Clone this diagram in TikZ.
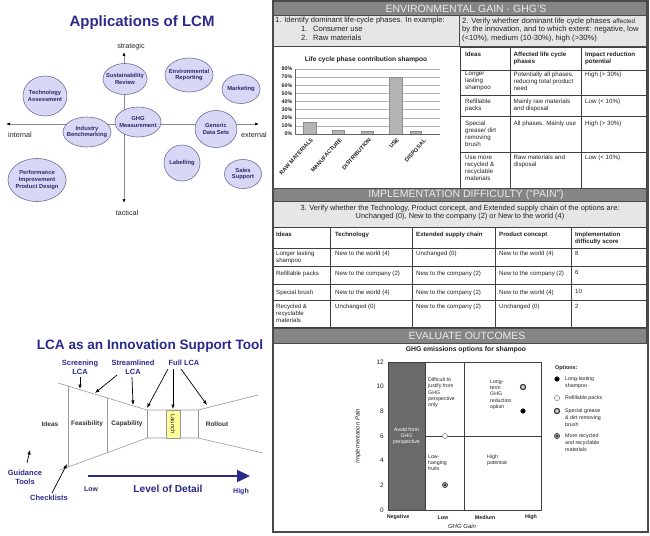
\documentclass[tikz,border=0pt]{standalone}
\usepackage{fontspec}
\setmainfont{Liberation Sans}
\usetikzlibrary{arrows.meta,shapes.geometric}
\definecolor{lcmblue}{HTML}{2B2B8C}
\definecolor{elltext}{HTML}{2A2A6A}
\definecolor{ellfill}{HTML}{D8D8F6}
\definecolor{elldraw}{HTML}{6E6E9E}
\definecolor{hdrgray}{HTML}{858585}
\definecolor{boxgray}{HTML}{E6E6E6}
\definecolor{framegray}{HTML}{4A4A4A}
\definecolor{darkcol}{HTML}{6A6A6A}
\definecolor{bargray}{HTML}{B4B4B4}
\definecolor{launchy}{HTML}{FFFF99}
\definecolor{ink}{HTML}{222222}
\newcommand{\fsz}[2]{\fontsize{#1}{#2}\selectfont}
\begin{document}
\begin{tikzpicture}[x=1pt,y=-1pt,
  ell/.style={ellipse, draw=elldraw, fill=ellfill, line width=0.6pt, inner sep=0pt},
  elltxt/.style={inner sep=0pt, align=center, text=elltext, font=\bfseries\fsz{5.8}{6.8}},
  axisline/.style={draw=black!45, line width=0.6pt, {Latex[length=4pt,width=3pt,color=black]}-{Latex[length=4pt,width=3pt,color=black]}},
  axlbl/.style={inner sep=0pt, text=ink, font=\fsz{7.2}{8}},
  bluelbl/.style={inner sep=0pt, align=center, text=lcmblue, font=\bfseries\fsz{7.5}{9}},
  stage/.style={inner sep=0pt, text=black!80, font=\bfseries\fsz{6.5}{7.5}},
  funnel/.style={draw=black!40, line width=0.6pt},
  ptr/.style={draw=black, line width=0.7pt, -{Latex[length=4.5pt,width=3.5pt]}},
  hdrbar/.style={fill=hdrgray, draw=framegray, line width=0.9pt},
  hdrtxt/.style={inner sep=0pt, text=white!92!black, font=\fsz{10.5}{12}},
  graybox/.style={fill=boxgray, draw=framegray, line width=0.9pt},
  boxtxt/.style={inner sep=0pt, anchor=west, text=ink, font=\fsz{7.6}{8.3}},
  tcell/.style={inner sep=0pt, anchor=north west, align=left, text=ink, font=\fsz{6.2}{7}},
  thead/.style={tcell, font=\bfseries\fsz{6.2}{7}},
  icell/.style={inner sep=0pt, anchor=north west, align=left, text=ink, font=\fsz{6.1}{6.9}},
  ihead/.style={icell, font=\bfseries\fsz{6.1}{6.9}},
  tline/.style={draw=black!75, line width=0.5pt},
  ptxt/.style={inner sep=0pt, anchor=north west, align=left, text=ink, font=\fsz{5.2}{6.3}},
  legtxt/.style={inner sep=0pt, anchor=north west, align=left, text=ink, font=\fsz{5.3}{7}},
  tick/.style={inner sep=0pt, text=ink, font=\fsz{6.5}{7}},
  xlab/.style={inner sep=0pt, text=ink, font=\bfseries\fsz{5.4}{6}},
  xcat/.style={inner sep=0pt, text=ink, font=\bfseries\fsz{5.6}{6}},
  mk/.style={circle, inner sep=0pt, minimum size=5.2pt},
  mlong/.style={mk, fill=black},
  mrefill/.style={mk, fill=white, draw=black!50, line width=0.5pt},
  mspecial/.style={mk, fill=black!20, draw=black!80, line width=1.1pt},
  mrecyc/.style={mk, fill=black!40, draw=black!75, line width=0.6pt, path picture={\fill[black!85] (path picture bounding box.center) circle (1.1pt);}},
]
\useasboundingbox (0,0) rectangle (650,535);
\fill[white] (0,0) rectangle (650,535);

% ================= Applications of LCM =================
\node[inner sep=0pt, text=lcmblue, font=\bfseries\fsz{15}{17}] (t1) at (142,23) {Applications of LCM};
\coordinate (vt) at (124,52);
\coordinate (vb) at (124,203);
\coordinate (hl) at (6,124);
\coordinate (hr) at (259,124);
\draw[axisline] (vt) -- (vb);
\draw[axisline] (hl) -- (hr);
\node[axlbl] (strat) at (131,47) {strategic};
\node[axlbl] (tact) at (127,213) {tactical};
\node[axlbl] (intl) at (20,135) {internal};
\node[axlbl] (extl) at (254,135) {external};
\node[ell, minimum width=44, minimum height=31, label={[elltxt]center:Sustainability\\Review}] (sr) at (125,79) {};
\node[ell, minimum width=48, minimum height=34, label={[elltxt]center:Environmental\\Reporting}] (er) at (189,75) {};
\node[ell, minimum width=38, minimum height=29, label={[elltxt]center:Marketing}] (mkt) at (241,89) {};
\node[ell, minimum width=44, minimum height=40, label={[elltxt]center:Technology\\Assessment}] (ta) at (45,96) {};
\node[ell, minimum width=46, minimum height=30, label={[elltxt]center:GHG\\Measurement}] (ghg) at (138,122) {};
\node[ell, minimum width=48, minimum height=30, label={[elltxt]center:Industry\\Benchmarking}] (ib) at (87,132) {};
\node[ell, minimum width=42, minimum height=37, label={[elltxt]center:Generic\\Data Sets}] (gd) at (216,129) {};
\node[ell, minimum width=36, minimum height=36, label={[elltxt]center:Labelling}] (lb) at (182,163) {};
\node[ell, minimum width=37, minimum height=29, label={[elltxt]center:Sales\\Support}] (ss) at (243,174) {};
\node[ell, minimum width=58, minimum height=43, label={[elltxt]center:Performance\\Improvement\\Product Design}] (pi) at (37,180) {};

% ================= LCA as an Innovation Support Tool =================
\node[inner sep=0pt, text=lcmblue, font=\bfseries\fsz{13.6}{15}] (t2) at (150,346) {LCA as an Innovation Support Tool};
\coordinate (f1) at (58,383);
\coordinate (f2) at (147,410);
\coordinate (f3) at (60,470);
\coordinate (f4) at (147,438);
\coordinate (f5) at (198,410);
\coordinate (f6) at (198,438);
\coordinate (f7) at (258,395);
\coordinate (f8) at (263,453);
\coordinate (v1a) at (68,386);
\coordinate (v1b) at (68,467);
\coordinate (v2a) at (107,398);
\coordinate (v2b) at (107,453);
\draw[funnel] (f1) -- (f2) -- (f5) -- (f7);
\draw[funnel] (f3) -- (f4) -- (f6) -- (f8);
\draw[funnel] (f2) -- (f4);
\draw[funnel] (f5) -- (f6);
\draw[funnel] (v1a) -- (v1b);
\draw[funnel] (v2a) -- (v2b);
\node[draw=black!40, line width=0.6pt, fill=launchy, minimum width=14, minimum height=28, inner sep=0pt] (launch) at (173,424) {};
\node[rotate=-90, inner sep=0pt, text=black!85, font=\fsz{6}{7}] (launcht) at (launch) {Launch};
\node[stage] (ideas) at (50,424) {Ideas};
\node[stage] (feas) at (87,424) {Feasibility};
\node[stage] (capa) at (127,424) {Capability};
\node[stage] (roll) at (217,424) {Rollout};

\node[bluelbl] (scr) at (80,367.5) {Screening\\LCA};
\node[bluelbl] (stl) at (133,367.5) {Streamlined\\LCA};
\node[bluelbl] (full) at (184,363) {Full LCA};
\node[bluelbl] (guid) at (25,477.5) {Guidance\\Tools};
\node[bluelbl] (chk) at (49,498) {Checklists};

\coordinate (a1s) at (80,377);  \coordinate (a1e) at (80,389);
\coordinate (a2s) at (117,375); \coordinate (a2e) at (95,393);
\coordinate (a3s) at (132,377); \coordinate (a3e) at (133,405);
\coordinate (a4s) at (168,369); \coordinate (a4e) at (147,408);
\coordinate (a5s) at (173,369); \coordinate (a5e) at (173,409);
\coordinate (a6s) at (181,369); \coordinate (a6e) at (207,405);
\coordinate (a7s) at (27,463);  \coordinate (a7e) at (30,450);
\coordinate (a8s) at (52,493);  \coordinate (a8e) at (67,464);
\draw[ptr] (a1s) -- (a1e);
\draw[ptr] (a2s) -- (a2e);
\draw[ptr] (a3s) -- (a3e);
\draw[ptr] (a4s) -- (a4e);
\draw[ptr] (a5s) -- (a5e);
\draw[ptr] (a6s) -- (a6e);
\draw[ptr] (a7s) -- (a7e);
\draw[ptr] (a8s) -- (a8e);

\coordinate (ls) at (88,476);
\coordinate (le) at (250,476);
\draw[line width=2.3pt, lcmblue, -{Triangle[length=13pt,width=12pt]}] (ls) -- (le);
\node[inner sep=0pt, text=lcmblue, font=\bfseries\fsz{7}{8}] (low) at (91,489.5) {Low};
\node[inner sep=0pt, text=lcmblue, font=\bfseries\fsz{10.2}{12}] (lod) at (168,489) {Level of Detail};
\node[inner sep=0pt, text=lcmblue, font=\bfseries\fsz{7}{8}] (high) at (241,491.5) {High};

% ================= Right panel =================
\fill[white] (272.5,1) rectangle (647.5,532);
% --- Environmental gain
\draw[hdrbar] (273.5,1.8) rectangle (646.5,15.5);
\node[hdrtxt] (h1) at (466,8.8) {ENVIRONMENTAL GAIN - GHG’S};
\draw[graybox] (273.5,15.5) rectangle (459.5,46.5);
\draw[graybox] (459.5,15.5) rectangle (646.5,46.5);
\node[boxtxt] (e1) at (275,21) {1. Identify dominant life-cycle phases. In example:};
\node[boxtxt] (e1n1) at (301,29.3) {1.};
\node[boxtxt] (e1t1) at (313,29.3) {Consumer use};
\node[boxtxt] (e1n2) at (301,37.5) {2.};
\node[boxtxt] (e1t2) at (313,37.5) {Raw materials};
\node[boxtxt, anchor=north west, align=left] (e2) at (462,17.8) {2. Verify whether dominant life cycle phases {\fsz{6.3}{8.3}affected}\\by the innovation, and to which extent: negative, low\\(<10\%), medium (10-30\%), high (>30\%)};

% bar chart
\node[inner sep=0pt, text=ink, font=\bfseries\fsz{6.6}{7}] (bct) at (366,59.5) {Life cycle phase contribution shampoo};
\foreach \v/\n in {0/0,10/1,20/2,30/3,40/4,50/5,60/6,70/7,80/8} {
  \draw[draw=black!30, line width=0.4pt] (295,{134-0.8125*\v}) -- (440,{134-0.8125*\v});
  \node[anchor=east, inner sep=0pt, text=ink, font=\bfseries\fsz{5.3}{6}] (yl\n) at (292.5,{134-0.8125*\v}) {\v\%};
}
\foreach \xa/\xb/\v in {303/316/15,332/344/5,361/373/3,389/402/70,410/421/4}
  \draw[fill=bargray, draw=black!45, line width=0.3pt] (\xa,134) rectangle (\xb,{134-0.8125*\v});
\draw[black!60, line width=0.5pt] (295,69) -- (295,134) -- (440,134);
\node[xcat, rotate=48, anchor=east] (c1) at (312,139) {RAW MATERIALS};
\node[xcat, rotate=48, anchor=east] (c2) at (341,139) {MANUFACTURE};
\node[xcat, rotate=48, anchor=east] (c3) at (370,139) {DISTRIBUTION};
\node[xcat, rotate=48, anchor=east] (c4) at (398,139) {USE};
\node[xcat, rotate=48, anchor=east] (c5) at (425,140) {DISPOSAL};

% env table
\draw[tline] (460,47) rectangle (646.5,188);
\foreach \yy in {70,95,116,152} \draw[tline] (460,\yy) -- (646.5,\yy);
\draw[tline] (510.5,47) -- (510.5,188);
\draw[tline] (581,47) -- (581,188);
\node[thead] (eh1) at (465,52) {Ideas};
\node[thead] (eh2) at (513.5,52) {Affected life cycle\\phases};
\node[thead] (eh3) at (585,52) {Impact reduction\\potential};
\node[tcell] (e11) at (465,71.5) {Longer\\lasting\\shampoo};
\node[tcell] (e12) at (513.5,71.5) {Potentially all phases,\\reducing total product\\need};
\node[tcell] (e13) at (585,71.5) {High (> 30\%)};
\node[tcell] (e21) at (465,98.5) {Refillable\\packs};
\node[tcell] (e22) at (513.5,98.5) {Mainly raw materials\\and disposal};
\node[tcell] (e23) at (585,98.5) {Low (< 10\%)};
\node[tcell] (e31) at (465,121) {Special\\grease/ dirt\\removing\\brush};
\node[tcell] (e32) at (513.5,121) {All phases. Mainly use};
\node[tcell] (e33) at (585,121) {High (> 30\%)};
\node[tcell] (e41) at (465,155) {Use more\\recycled \&\\recyclable\\materials};
\node[tcell] (e42) at (513.5,155) {Raw materials and\\disposal};
\node[tcell] (e43) at (585,155) {Low (< 10\%)};

% --- Implementation difficulty
\draw[hdrbar] (273.5,188.5) rectangle (646.5,201.5);
\node[hdrtxt] (h2) at (466,195) {IMPLEMENTATION DIFFICULTY (“PAIN”)};
\draw[graybox] (273.5,201.5) rectangle (646.5,227);
\node[inner sep=0pt, align=center, text=ink, font=\fsz{7.4}{8.4}] (idesc) at (460,212.5) {3. Verify whether the Technology, Product concept, and Extended supply chain of the options are:\\Unchanged (0), New to the company (2) or New to the world (4)};
\draw[tline] (273.5,227) rectangle (646.5,327);
\foreach \yy in {248,266,284.5,300} \draw[tline] (273.5,\yy) -- (646.5,\yy);
\foreach \xx in {330,412,495,571} \draw[tline] (\xx,227) -- (\xx,327);
\node[ihead] (ih1) at (276,232) {Ideas};
\node[ihead] (ih2) at (335,232) {Technology};
\node[ihead] (ih3) at (416,232) {Extended supply chain};
\node[ihead] (ih4) at (499,232) {Product concept};
\node[ihead] (ih5) at (575,232) {Implementation\\difficulty score};
\node[icell] (i11) at (276,251) {Longer lasting\\shampoo};
\node[icell] (i12) at (335,251) {New to the world (4)};
\node[icell] (i13) at (416,251) {Unchanged (0)};
\node[icell] (i14) at (499,251) {New to the world (4)};
\node[icell] (i15) at (575,251) {8};
\node[icell] (i21) at (276,270.5) {Refillable packs};
\node[icell] (i22) at (335,270.5) {New to the company (2)};
\node[icell] (i23) at (416,270.5) {New to the company (2)};
\node[icell] (i24) at (499,270.5) {New to the company (2)};
\node[icell] (i25) at (575,270.5) {6};
\node[icell] (i31) at (276,289.5) {Special brush};
\node[icell] (i32) at (335,289.5) {New to the world (4)};
\node[icell] (i33) at (416,289.5) {New to the company (2)};
\node[icell] (i34) at (499,289.5) {New to the world (4)};
\node[icell] (i35) at (575,289.5) {10};
\node[icell] (i41) at (276,304) {Recycled \&\\recyclable\\materials};
\node[icell] (i42) at (335,304) {Unchanged (0)};
\node[icell] (i43) at (416,304) {New to the company (2)};
\node[icell] (i44) at (499,304) {Unchanged (0)};
\node[icell] (i45) at (575,304) {2};

% --- Evaluate outcomes
\draw[hdrbar] (273.5,328.5) rectangle (646.5,343);
\node[hdrtxt] (h3) at (467,336) {EVALUATE OUTCOMES};
\node[inner sep=0pt, text=ink, font=\bfseries\fsz{6.8}{7}] (gct) at (466,349.5) {GHG emissions options for shampoo};
\fill[darkcol] (388,362) rectangle (425,510);
\draw[black!75, line width=0.6pt] (388,362) rectangle (541,510);
\draw[black!75, line width=0.6pt] (425,362) -- (425,510);
\draw[black!75, line width=0.6pt] (464,362) -- (464,510);
\draw[black!75, line width=0.6pt] (425,436) -- (541,436);
\foreach \v in {0,2,...,12}
  \node[tick, anchor=east] (yt\v) at (384,{510-12.35*\v}) {\v};
\node[xlab] (xn) at (398,517.5) {Negative};
\node[xlab] (xlo) at (443,517.5) {Low};
\node[xlab] (xme) at (485,517.5) {Medium};
\node[xlab] (xhi) at (531,517.5) {High};
\node[inner sep=0pt, text=ink, font=\itshape\fsz{6}{7}] (xtitle) at (462,526) {GHG Gain};
\node[inner sep=0pt, rotate=90, text=ink, font=\itshape\fsz{6}{7}] (ytitle) at (358,436) {Implementation Pain};
\node[ptxt] (p1) at (428,377.5) {Difficult to\\justify from\\GHG\\perspective\\only};
\node[ptxt, text=white, align=center, anchor=center] (p2) at (406.5,436) {Avoid from\\GHG\\perspective};
\node[ptxt] (p3) at (428,454.5) {Low-\\hanging\\fruits};
\node[ptxt] (p4) at (490,379.5) {Long-\\term\\GHG\\reduction\\option};
\node[ptxt] (p5) at (487,454.5) {High\\potential};
\node[mrefill] (m1) at (445,436) {};
\node[mrecyc] (m2) at (445,485) {};
\node[mspecial] (m3) at (523,387) {};
\node[mlong] (m4) at (523,411) {};
% legend
\node[inner sep=0pt, anchor=west, text=ink, font=\bfseries\fsz{5.4}{6}] (opt) at (555,368) {Options:};
\node[mlong] (l1) at (557,379) {};
\node[legtxt] (l1t) at (565,376.3) {Long-lasting\\shampoo};
\node[mrefill] (l2) at (557,398) {};
\node[legtxt] (l2t) at (565,395.3) {Refillable packs};
\node[mspecial] (l3) at (557,411) {};
\node[legtxt] (l3t) at (565,408.3) {Special grease\\\& dirt removing\\brush};
\node[mrecyc] (l4) at (557,436) {};
\node[legtxt] (l4t) at (565,433.3) {More recycled\\and recyclable\\materials};

% frame
\draw[framegray, line width=2pt] (272.5,1) rectangle (647.5,532);
\end{tikzpicture}
\end{document}
